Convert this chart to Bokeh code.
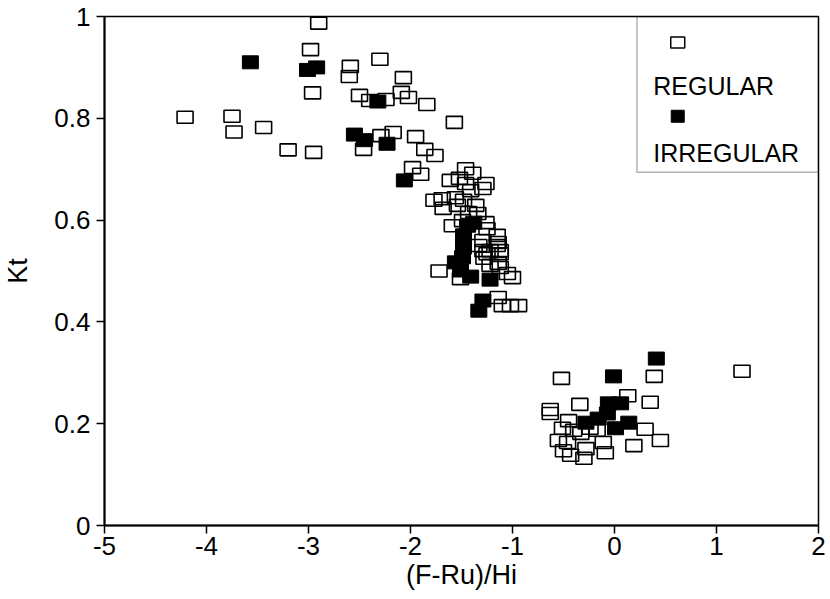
from bokeh.plotting import figure
from bokeh.models import FixedTicker, BoxAnnotation, Label
from bokeh.embed import file_html
from bokeh.resources import INLINE

# ---- data ----
reg_x = [-4.21, -3.75, -3.73, -3.44, -3.20, -2.95, -2.90, -2.98, -2.96, -2.59,
         -2.60, -2.30, -2.07, -2.50, -2.40, -2.24, -2.09, -2.02, -1.84, -1.57,
         -2.29, -2.17, -2.46, -1.95, -1.86, -1.76, -1.98, -1.90,
         -1.46, -1.39, -1.61, -1.52, -1.46, -1.29, -1.26, -1.77, -1.69, -1.56,
         -1.54, -1.48, -1.68, -1.36, -1.34, -1.41, -1.43, -1.59, -1.49, -1.26,
         -1.25, -1.29, -1.15, -1.14, -1.29, -1.22, -1.12, -1.28, -1.14, -1.72,
         -1.33, -1.15, -1.25, -1.12, -1.22, -1.12, -1.05, -1.00, -1.51, -1.14,
         -1.10, -1.02, -0.94,
         -0.52, 0.39, 1.25, -0.63, -0.63, -0.34, 0.13, 0.35, 0.30, 0.45,
         0.19, -0.45, -0.51, -0.40, -0.55, -0.46, -0.33, -0.11, -0.09, -0.43,
         -0.30, -0.28, -0.24, -0.17, -0.50]
reg_y = [0.802, 0.804, 0.773, 0.782, 0.738, 0.733, 0.987, 0.935, 0.850, 0.902,
         0.882, 0.916, 0.880, 0.845, 0.835, 0.837, 0.851, 0.841, 0.827, 0.792,
         0.766, 0.772, 0.739, 0.764, 0.739, 0.727, 0.703, 0.690,
         0.701, 0.692, 0.678, 0.682, 0.672, 0.662, 0.672, 0.639, 0.642, 0.644,
         0.629, 0.639, 0.623, 0.629, 0.613, 0.658, 0.615, 0.589, 0.599, 0.595,
         0.583, 0.560, 0.570, 0.556, 0.540, 0.540, 0.540, 0.525, 0.515, 0.500,
         0.550, 0.550, 0.534, 0.534, 0.511, 0.507, 0.495, 0.487, 0.485, 0.448,
         0.432, 0.432, 0.432,
         0.289, 0.293, 0.303, 0.228, 0.220, 0.238, 0.255, 0.242, 0.189, 0.167,
         0.157, 0.206, 0.191, 0.187, 0.167, 0.163, 0.181, 0.163, 0.143, 0.138,
         0.132, 0.151, 0.191, 0.187, 0.147]

irr_x = [-3.57, -3.01, -2.92, -2.32, -2.55, -2.45, -2.23, -2.06,
         -1.44, -1.38, -1.48, -1.48, -1.49, -1.56, -1.51, -1.41, -1.22, -1.29, -1.33,
         -0.01, 0.41, -0.06, 0.06, -0.28, -0.16, -0.07, 0.01, 0.14]
irr_y = [0.910, 0.895, 0.900, 0.833, 0.768, 0.757, 0.750, 0.678,
         0.589, 0.595, 0.570, 0.546, 0.527, 0.517, 0.501, 0.489, 0.483, 0.442, 0.422,
         0.293, 0.328, 0.240, 0.240, 0.202, 0.210, 0.220, 0.191, 0.202]

x_ticks = [-5, -4, -3, -2, -1, 0, 1, 2]
y_ticks = [0, 0.2, 0.4, 0.6, 0.8, 1]
y_tick_labels = ["0", "0.2", "0.4", "0.6", "0.8", "1"]
series_names = ["REGULAR", "IRREGULAR"]

FONT = "Liberation Sans"

p = figure(width=828, height=597, x_range=(-5, 2), y_range=(0, 1),
           output_backend="svg", toolbar_location=None,
           min_border_left=104, min_border_right=10, min_border_top=16,
           min_border_bottom=72)
p.grid.visible = False
p.outline_line_color = "black"
p.outline_line_width = 1.5
p.background_fill_color = "white"
p.border_fill_color = "white"

for ax in (p.xaxis[0], p.yaxis[0]):
    ax.axis_line_width = 2
    ax.axis_line_color = "black"
    ax.major_tick_line_width = 1.5
    ax.major_tick_line_color = "black"
    ax.major_tick_out = 8
    ax.major_tick_in = 0
    ax.minor_tick_line_color = None
    ax.major_label_text_font = FONT
    ax.major_label_text_font_size = "26px"
    ax.major_label_text_color = "black"
    ax.axis_label_text_font = FONT
    ax.axis_label_text_font_size = "27px"
    ax.axis_label_text_font_style = "normal"
    ax.axis_label_text_color = "black"

p.xaxis.ticker = FixedTicker(ticks=x_ticks)
p.yaxis.ticker = FixedTicker(ticks=y_ticks)
p.yaxis.major_label_overrides = {t: l for t, l in zip(y_ticks, y_tick_labels)}
p.xaxis.major_label_overrides = {t: str(t) for t in x_ticks}
p.xaxis.axis_label = "(F-Ru)/Hi"
p.yaxis.axis_label = "Kt"
p.xaxis.major_label_standoff = 3
p.xaxis.axis_label_standoff = 2
p.yaxis.major_label_standoff = 6
p.yaxis.axis_label_standoff = 18

# data marks
p.rect(reg_x, reg_y, width=16, height=12, width_units="screen", height_units="screen",
       fill_color=None, line_color="black", line_width=1.6)
p.rect(irr_x, irr_y, width=16, height=13, width_units="screen", height_units="screen",
       fill_color="black", line_color="black", line_width=1)

# legend (drawn manually: marker above label)
p.add_layout(BoxAnnotation(left=0.22, right=2.0, top=1.0, bottom=0.694,
                           fill_alpha=0, line_color="black", line_width=1.5,
                           level="underlay"))
p.rect([0.62], [0.949], width=14, height=11, width_units="screen", height_units="screen",
       fill_color=None, line_color="black", line_width=1.5)
p.rect([0.62], [0.804], width=13, height=12, width_units="screen", height_units="screen",
       fill_color="black", line_color="black", line_width=1)
for name, yy in zip(series_names, [0.864, 0.731]):
    p.add_layout(Label(x=0.38, y=yy, text=name, text_font=FONT, text_font_size="25px",
                       text_color="black", text_baseline="alphabetic", text_align="left"))

open("out.html", "w").write(file_html(p, INLINE))
